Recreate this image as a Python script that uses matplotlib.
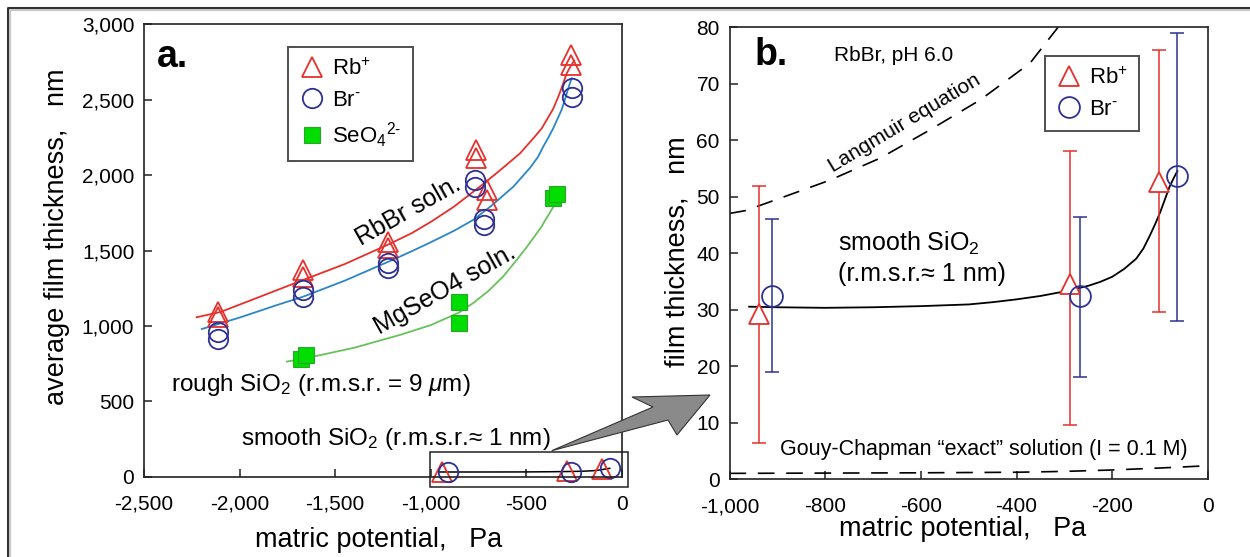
import numpy as np
import matplotlib.pyplot as plt
from matplotlib.lines import Line2D
from matplotlib.patches import Polygon, Rectangle

plt.rcParams['font.family'] = ['Liberation Sans', 'DejaVu Sans']
plt.rcParams['mathtext.fontset'] = 'custom'
plt.rcParams['mathtext.rm'] = 'Liberation Sans'
plt.rcParams['mathtext.it'] = 'Liberation Sans:italic'
plt.rcParams['mathtext.default'] = 'regular'

RED = '#e5302c'
NAVY = '#2e3192'
BLUE_LINE = '#2a86c8'
GREEN_LINE = '#66c25a'
GREEN = '#00dd00'

# ---- panel a data (rough SiO2) ----
rb_a_x = [-2111, -2111, -1667, -1667, -1222, -1222, -765, -765, -708, -708, -265, -265]
rb_a_y = [1094, 1061, 1371, 1327, 1559, 1515, 2167, 2112, 1902, 1836, 2798, 2731]
br_a_x = [-2111, -2111, -1670, -1670, -1222, -1222, -769, -769, -722, -722, -263, -263]
br_a_y = [962, 911, 1238, 1194, 1415, 1382, 1968, 1924, 1707, 1670, 2577, 2517]
se_a_x = [-1680, -1655, -851, -851, -359, -342]
se_a_y = [782, 806, 1159, 1022, 1847, 1875]

# fitted curves
rb_fit_x = [-2225, -2100, -1900, -1667, -1450, -1222, -1100, -1000, -880, -743, -640, -533, -460,
            -420, -394, -360, -330, -310, -289, -270, -250]
rb_fit_y = [1057, 1092, 1190, 1305, 1410, 1540, 1615, 1690, 1790, 1924, 2030, 2145, 2250,
            2310, 2366, 2440, 2530, 2600, 2676, 2720, 2760]
br_fit_x = [-2198, -2000, -1800, -1667, -1450, -1196, -1100, -1000, -880, -778, -680, -568, -480,
            -440, -412, -385, -360, -335, -316, -300, -285, -275, -263]
br_fit_y = [979, 1055, 1140, 1194, 1300, 1440, 1495, 1555, 1630, 1703, 1800, 1924, 2050,
            2120, 2189, 2250, 2310, 2380, 2433, 2495, 2560, 2600, 2643]
se_fit_x = [-1752, -1614, -1400, -1161, -1000, -853, -780, -700, -620, -551, -500, -446, -420,
            -400, -380, -359, -330, -311]
se_fit_y = [763, 796, 855, 940, 1005, 1088, 1150, 1230, 1330, 1437, 1520, 1614, 1660,
            1705, 1745, 1791, 1855, 1902]

# ---- panel b data (smooth SiO2) ----
rb_b_x = [-939, -289, -102]
rb_b_y = [29.2, 34.6, 52.5]
rb_b_lo = [6.3, 9.6, 29.6]
rb_b_hi = [51.8, 58.0, 75.9]
br_b_x = [-911, -268, -65]
br_b_y = [32.4, 32.4, 53.6]
br_b_lo = [18.9, 18.1, 28.0]
br_b_hi = [46.1, 46.4, 78.9]

sm_fit_x = [-959, -900, -800, -700, -600, -500, -450, -400, -350, -300, -250, -225, -200, -175,
            -150, -135, -122, -110, -100, -90, -81, -72, -64]
sm_fit_y = [30.5, 30.4, 30.3, 30.4, 30.6, 30.9, 31.3, 31.8, 32.4, 33.2, 34.2, 34.9, 35.8, 37.2,
            39.0, 40.8, 43.0, 45.2, 47.2, 49.5, 51.6, 53.2, 54.5]
lang_x = [-1000, -967, -894, -790, -685, -581, -476, -372, -313]
lang_y = [47.0, 47.5, 49.7, 52.9, 56.8, 61.8, 67.1, 73.6, 80.0]
gouy_x = [-1000, -800, -600, -400, -300, -200, -100, 0]
gouy_y = [1.0, 1.05, 1.1, 1.2, 1.35, 1.6, 1.95, 2.35]

a_xticks = [-2500, -2000, -1500, -1000, -500, 0]
a_xlabels = ['-2,500', '-2,000', '-1,500', '-1,000', '-500', '0']
a_yticks = [0, 500, 1000, 1500, 2000, 2500, 3000]
a_ylabels = ['0', '500', '1,000', '1,500', '2,000', '2,500', '3,000']
b_xticks = [-1000, -800, -600, -400, -200, 0]
b_xlabels = ['-1,000', '-800', '-600', '-400', '-200', '0']
b_yticks = [0, 10, 20, 30, 40, 50, 60, 70, 80]

fig = plt.figure(figsize=(12.5, 5.57), dpi=100)
ax_a = fig.add_axes([0.1152, 0.1444, 0.3824, 0.8117])
ax_b = fig.add_axes([0.5836, 0.1400, 0.3828, 0.8115])


def style_axes(ax):
    for s in ax.spines.values():
        s.set_linewidth(1.2)
        s.set_color('#222222')
    ax.tick_params(direction='in', length=6, width=1.1, labelsize=15, pad=7,
                   top=False, right=False, colors='#222222', labelcolor='black')
    ax.tick_params(axis='x', pad=13)


HY = '\u2010'

# ---------------- panel a ----------------
ax_a.plot(rb_fit_x, rb_fit_y, color=RED, lw=1.3)
ax_a.plot(br_fit_x, br_fit_y, color=BLUE_LINE, lw=1.3)
ax_a.plot(se_fit_x, se_fit_y, color=GREEN_LINE, lw=1.3)
ax_a.plot(sm_fit_x, sm_fit_y, color='black', lw=1.1)
h_rb, = ax_a.plot(rb_a_x, rb_a_y, ls='none', marker='^', ms=14, mfc='none', mec=RED, mew=1.3, label='Rb$^{+}$')
h_br, = ax_a.plot(br_a_x, br_a_y, ls='none', marker='o', ms=14, mfc='none', mec=NAVY, mew=1.3,
                  label='Br$^{' + HY + '}$')
h_se, = ax_a.plot(se_a_x, se_a_y, ls='none', marker='s', ms=11, mfc=GREEN, mec='#2aa52a', mew=0.8,
                  label='SeO$_4$$^{2' + HY + '}$')
ax_a.plot(rb_b_x, rb_b_y, ls='none', marker='^', ms=14, mfc='none', mec=RED, mew=1.3, clip_on=False)
ax_a.plot(br_b_x, br_b_y, ls='none', marker='o', ms=14, mfc='none', mec=NAVY, mew=1.3, clip_on=False)
ax_a.add_patch(Rectangle((-1004, -67), 1037, 232, fill=False, ec='#222222', lw=1.1, clip_on=False))

ax_a.set_xlim(-2500, 0)
ax_a.set_ylim(0, 3000)
ax_a.set_xticks(a_xticks)
ax_a.set_xticklabels(a_xlabels)
ax_a.set_yticks(a_yticks)
ax_a.set_yticklabels(a_ylabels)
style_axes(ax_a)
ax_a.set_xlabel('matric potential,   Pa', fontsize=19.5, va='center')
ax_a.xaxis.set_label_coords(0.491, -0.140)
ax_a.set_ylabel('average film thickness,   nm', fontsize=19.5, va='center')
ax_a.yaxis.set_label_coords(-0.182, 0.53)

leg_a = ax_a.legend(handles=[h_rb, h_br, h_se], loc='upper left', bbox_to_anchor=(0.3006, 0.9496),
                    borderaxespad=0, fontsize=16, frameon=True, fancybox=False,
                    edgecolor='#222222', handletextpad=0.3, handlelength=1.2,
                    labelspacing=0.45, borderpad=0.5)
leg_a.get_frame().set_linewidth(1.4)

ax_a.text(0.027, 0.905, 'a.', transform=ax_a.transAxes, fontsize=27, fontweight='bold')
ax_a.text(0.552, 0.5875, 'RbBr soln.', transform=ax_a.transAxes, fontsize=18, rotation=29.5,
          ha='center', va='center', rotation_mode='anchor')
ax_a.text(0.6297, 0.4127, 'MgSeO4 soln.', transform=ax_a.transAxes, fontsize=18, rotation=29.5,
          ha='center', va='center', rotation_mode='anchor')
ax_a.text(0.0556, 0.1896, r'rough SiO$_2$ (r.m.s.r. = 9 $\mathit{\mu}$m)', transform=ax_a.transAxes,
          fontsize=17.5, va='baseline')
ax_a.text(0.2025, 0.0703, 'smooth SiO$_2$ (r.m.s.r.\u2248 1 nm)', transform=ax_a.transAxes,
          fontsize=17.5, va='baseline')

# ---------------- panel b ----------------
ax_b.plot(lang_x, lang_y, color='black', lw=1.2, ls=(0, (10, 7)))
ax_b.plot(gouy_x, gouy_y, color='black', lw=1.2, ls=(0, (10, 7)))
ax_b.plot(sm_fit_x, sm_fit_y, color='black', lw=1.3)

rb_err = [np.array(rb_b_y) - np.array(rb_b_lo), np.array(rb_b_hi) - np.array(rb_b_y)]
br_err = [np.array(br_b_y) - np.array(br_b_lo), np.array(br_b_hi) - np.array(br_b_y)]
ax_b.errorbar(rb_b_x, rb_b_y, yerr=rb_err, fmt='none', ecolor=RED, elinewidth=1.1, capsize=5, capthick=1.1)
ax_b.errorbar(br_b_x, br_b_y, yerr=br_err, fmt='none', ecolor=NAVY, elinewidth=1.1, capsize=5, capthick=1.1)
hb_rb, = ax_b.plot(rb_b_x, rb_b_y, ls='none', marker='^', ms=15, mfc='white', mec=RED, mew=1.3, label='Rb$^{+}$')
hb_br, = ax_b.plot(br_b_x, br_b_y, ls='none', marker='o', ms=15, mfc='none', mec=NAVY, mew=1.3,
                   label='Br$^{' + HY + '}$')

ax_b.set_xlim(-1000, 0)
ax_b.set_ylim(0, 80)
ax_b.set_xticks(b_xticks)
ax_b.set_xticklabels(b_xlabels)
ax_b.set_yticks(b_yticks)
style_axes(ax_b)
ax_b.set_xlabel('matric potential,   Pa', fontsize=19.5, va='center')
ax_b.xaxis.set_label_coords(0.487, -0.1106)
ax_b.set_ylabel('film thickness,   nm', fontsize=19.5, va='center')
ax_b.yaxis.set_label_coords(-0.1097, 0.502)

leg_b = ax_b.legend(handles=[hb_rb, hb_br], loc='upper left', bbox_to_anchor=(0.6594, 0.9358),
                    borderaxespad=0, fontsize=16, frameon=True, fancybox=False,
                    edgecolor='#222222', handletextpad=0.3, handlelength=1.2,
                    labelspacing=0.45, borderpad=0.5)
leg_b.get_frame().set_linewidth(1.4)

ax_b.text(0.053, 0.916, 'b.', transform=ax_b.transAxes, fontsize=27, fontweight='bold')
ax_b.text(0.2194, 0.938, 'RbBr, pH 6.0', transform=ax_b.transAxes, fontsize=15, va='center')
ax_b.text(0.366, 0.788, 'Langmuir equation', transform=ax_b.transAxes, fontsize=15, rotation=31,
          ha='center', va='center', rotation_mode='anchor')
ax_b.text(0.2267, 0.5057, 'smooth SiO$_2$', transform=ax_b.transAxes, fontsize=18, va='baseline')
ax_b.text(0.2267, 0.439, '(r.m.s.r.\u2248 1 nm)', transform=ax_b.transAxes, fontsize=18, va='baseline')
ax_b.text(0.1055, 0.053, 'Gouy-Chapman \u201cexact\u201d solution (I = 0.1 M)', transform=ax_b.transAxes,
          fontsize=15.5, va='baseline')

# gray zoom arrow between the panels (figure pixel positions)
arrow_px = [(551.7, 450.7), (653, 407), (632, 397), (710, 395), (677, 435), (668, 420)]
arrow_fig = [(x / 1250, 1 - y / 557) for x, y in arrow_px]
fig.add_artist(Polygon(arrow_fig, closed=True, transform=fig.transFigure,
                       fc='#8a8a8a', ec='#333333', lw=0.8, zorder=5))

# outer frame (top and left edges visible)
fig.add_artist(Line2D([9 / 1250, 9 / 1250, 1], [0, 1 - 9 / 557, 1 - 9 / 557],
                      transform=fig.transFigure, color='#c8c8c8', lw=3))
fig.add_artist(Line2D([8 / 1250, 8 / 1250, 1], [0, 1 - 8 / 557, 1 - 8 / 557],
                      transform=fig.transFigure, color='#222222', lw=1.3))

fig.savefig('out.png', dpi=100)
